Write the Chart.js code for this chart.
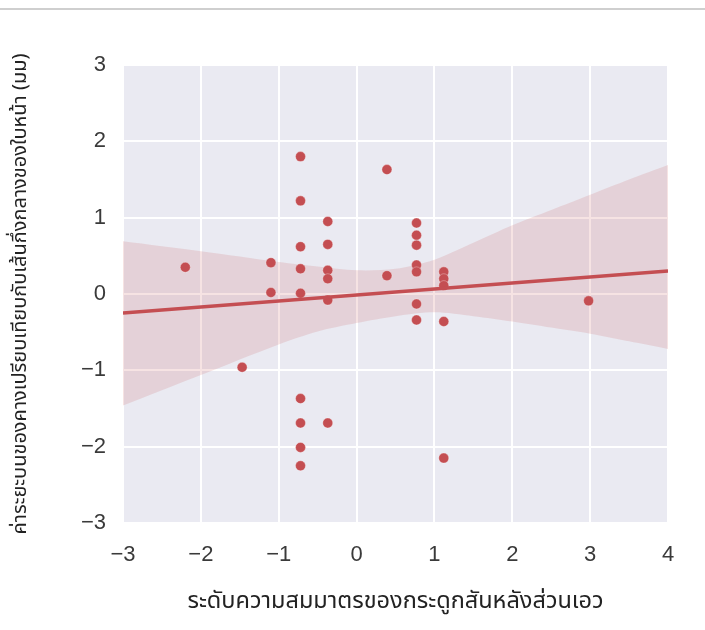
<!DOCTYPE html>
<html>
<head>
<meta charset="utf-8">
<script src="https://cdn.jsdelivr.net/npm/chart.js@4.4.1/dist/chart.umd.min.js"></script>
<style>
  html, body { margin: 0; padding: 0; background: #ffffff; }
  #wrap { width: 705px; height: 630px; position: relative; }
</style>
</head>
<body>
<div id="wrap"><canvas id="c" width="705" height="630"></canvas></div>
<script>
// ---- data ----
const pointX = [-2.2, -1.47, -1.1, -1.1, -0.72, -0.72, -0.72, -0.72, -0.72, -0.72, -0.72, -0.72, -0.72,
  -0.37, -0.37, -0.37, -0.37, -0.37, -0.37, 0.39, 0.39, 0.77, 0.77, 0.77, 0.77, 0.77, 0.77, 0.77,
  1.12, 1.12, 1.12, 1.12, 1.12, 2.98];
const pointY = [0.35, -0.96, 0.41, 0.02, 1.80, 1.22, 0.62, 0.33, 0.01, -1.37, -1.69, -2.01, -2.25,
  0.95, 0.65, 0.31, 0.20, -0.08, -1.69, 1.63, 0.24, 0.93, 0.77, 0.64, 0.38, 0.29, -0.13, -0.34,
  0.29, 0.20, 0.11, -0.36, -2.15, -0.09];

const fitX = [-3, 4];
const fitY = [-0.25, 0.30];

const bandX = [-3, -2, -1, -0.5, 0, 0.5, 1, 1.5, 2, 2.5, 3, 3.5, 4];
const bandUpper = [0.69, 0.56, 0.42, 0.36, 0.31, 0.33, 0.45, 0.67, 0.90, 1.10, 1.30, 1.50, 1.69];
const bandLower = [-1.46, -1.06, -0.66, -0.49, -0.38, -0.29, -0.24, -0.29, -0.36, -0.44, -0.52, -0.62, -0.72];

const xTicks = [-3, -2, -1, 0, 1, 2, 3, 4];
const yTicks = [-3, -2, -1, 0, 1, 2, 3];

const xTitle = 'ระดับความสมมาตรของกระดูกสันหลังส่วนเอว';
const yTitle = 'ค่าระยะบนของคางเปรียบเทียบกับเส้นกึ่งกลางของใบหน้า (มม)';

// ---- chart ----
const RED = '#c44e52';
const thaiFont = '"Noto Sans Thai", "Noto Sans Thai Looped", Tahoma, "Liberation Sans", "DejaVu Sans", sans-serif';
const numFont = '"Liberation Sans", Arial, sans-serif';

const bgPlugin = {
  id: 'bg',
  beforeDraw(chart) {
    const { ctx, chartArea: a } = chart;
    ctx.save();
    ctx.fillStyle = '#eaeaf2';
    ctx.fillRect(a.left, a.top, a.right - a.left, a.bottom - a.top);
    ctx.strokeStyle = '#cfcfcf';
    ctx.lineWidth = 2;
    ctx.beginPath();
    ctx.moveTo(0, 9);
    ctx.lineTo(chart.width, 9);
    ctx.stroke();
    ctx.restore();
  }
};

const fmt = v => (v < 0 ? '\u2212' + Math.abs(v) : String(v));

new Chart(document.getElementById('c'), {
  type: 'scatter',
  data: {
    datasets: [
      {
        label: 'upper',
        type: 'line',
        data: bandX.map((x, i) => ({ x, y: bandUpper[i] })),
        borderWidth: 0,
        pointRadius: 0,
        tension: 0.3,
        fill: '+1',
        backgroundColor: 'rgba(196,78,82,0.16)',
        order: 3
      },
      {
        label: 'lower',
        type: 'line',
        data: bandX.map((x, i) => ({ x, y: bandLower[i] })),
        borderWidth: 0,
        pointRadius: 0,
        tension: 0.3,
        fill: false,
        order: 3
      },
      {
        label: 'points',
        data: pointX.map((x, i) => ({ x, y: pointY[i] })),
        backgroundColor: RED,
        borderColor: 'rgba(255,255,255,0.5)',
        borderWidth: 0.6,
        pointRadius: 5,
        order: 2
      },
      {
        label: 'fit',
        type: 'line',
        data: fitX.map((x, i) => ({ x, y: fitY[i] })),
        borderColor: RED,
        borderWidth: 3.5,
        pointRadius: 0,
        fill: false,
        order: 1
      }
    ]
  },
  options: {
    responsive: false,
    animation: false,
    events: [],
    layout: { padding: { top: 65, right: 37, left: 0, bottom: 0 } },
    plugins: { legend: { display: false }, tooltip: { enabled: false } },
    scales: {
      x: {
        type: 'linear',
        min: -3, max: 4,
        afterFit(s) { s.height = 107; },
        afterBuildTicks(s) { s.ticks = xTicks.map(v => ({ value: v })); },
        grid: { color: '#ffffff', lineWidth: 2, drawTicks: false },
        border: { display: false },
        ticks: { padding: 19, color: '#3a3a3a', font: { family: numFont, size: 22 }, callback: fmt },
        title: { display: true, text: xTitle, color: '#222222',
          font: { family: thaiFont, size: 23.5 }, padding: { top: 0, bottom: 13 } }
      },
      y: {
        type: 'linear',
        min: -3, max: 3,
        afterFit(s) { s.width = 123; },
        afterBuildTicks(s) { s.ticks = yTicks.map(v => ({ value: v })); },
        grid: { color: '#ffffff', lineWidth: 2, drawTicks: false },
        border: { display: false },
        ticks: { padding: 17, color: '#3a3a3a', font: { family: numFont, size: 22 }, callback: fmt },
        title: { display: true, text: yTitle, color: '#222222',
          font: { family: thaiFont, size: 20 }, padding: { top: 10, bottom: 0 } }
      }
    }
  },
  plugins: [bgPlugin]
});
</script>
</body>
</html>
